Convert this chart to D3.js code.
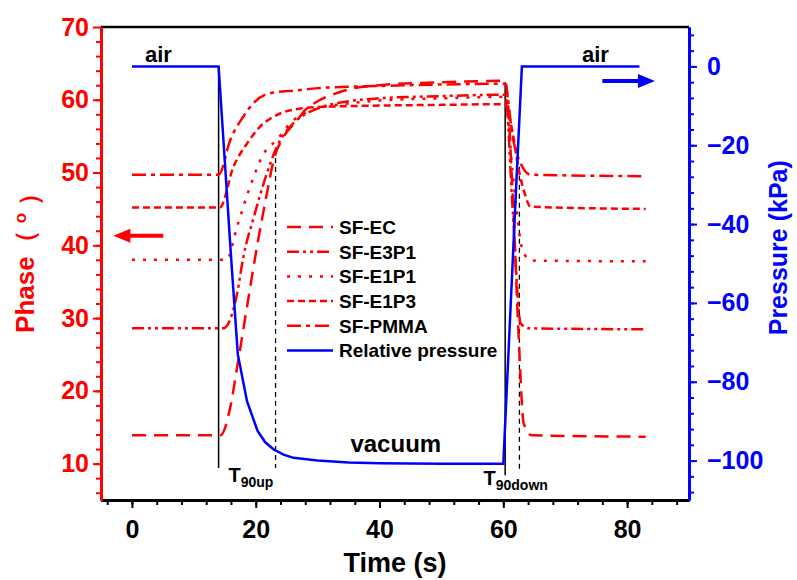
<!DOCTYPE html>
<html>
<head>
<meta charset="utf-8">
<script src="https://cdn.jsdelivr.net/npm/d3@7"></script>
<style>
    body { margin: 0; background: #fff; }
    svg { font-family: "Liberation Sans", Arial, sans-serif; font-weight: bold; }
</style>
</head>
<body>
<script>
// phase series (deg), time in s
const timeEC = [0, 14.3, 15.9, 17.0, 18.6, 20.2, 21.8, 22.9, 24.5, 26.7, 28, 30, 33, 36, 40, 50, 60.3, 61.6, 62.5, 63.3, 64.6, 83];
const phaseEC = [13.9, 13.9, 17.8, 23.3, 31.6, 39.8, 47.1, 51.7, 54.9, 57.2, 58.6, 59.8, 60.9, 61.6, 62.0, 62.4, 62.6, 45.3, 27.0, 15.5, 13.9, 13.7];

const timeE3P1 = [0, 14.8, 17.0, 18.0, 19.7, 21.8, 23.4, 26.1, 28, 30, 35, 40, 50, 60.3, 61.5, 62.8, 64.1, 83];
const phaseE3P1 = [28.6, 28.6, 33.4, 38.4, 43.9, 49.9, 53.5, 56.8, 58.0, 58.8, 59.8, 60.2, 60.5, 60.7, 45.0, 29.3, 28.6, 28.45];

const timeE1P1 = [0, 15.3, 17.0, 19.1, 21.3, 23.4, 26.1, 28, 30, 35, 40, 50, 60.3, 61.5, 63.2, 64.6, 83];
const phaseE1P1 = [38.0, 38.0, 42.6, 48.1, 52.6, 54.5, 57.2, 58.2, 58.8, 59.5, 59.9, 60.2, 60.4, 50.0, 39.1, 37.9, 37.8];

const timeE1P3 = [0, 14.2, 16.4, 18.6, 20.7, 23.4, 27.2, 30, 40, 50, 60.2, 61.5, 62.4, 63.5, 64.4, 83];
const phaseE1P3 = [45.2, 45.2, 50.8, 54.0, 56.3, 57.9, 58.8, 59.0, 59.2, 59.3, 59.4, 55.5, 50.8, 47.0, 45.3, 45.0];

const timePMMA = [0, 14.0, 15.9, 18.0, 19.6, 22.3, 26.7, 30, 40, 50, 60.2, 61.6, 63.2, 64.4, 83];
const phasePMMA = [49.7, 49.7, 54.5, 57.7, 59.5, 60.9, 61.3, 61.6, 61.9, 62.1, 62.2, 54.5, 50.6, 49.7, 49.5];

// relative pressure (kPa)
const timePressure = [0, 14.0, 15.0, 16.0, 17.1, 18.6, 20.3, 21.5, 22.9, 24.5, 26.1, 30, 35, 40, 50, 60.0, 61.0, 62.0, 63.0, 82];
const pressure = [0, 0, -24, -48, -73, -85, -92.5, -95.3, -97.2, -98.5, -99.3, -100.0, -100.5, -100.7, -100.8, -100.8, -67, -33, 0, 0];

const seriesNames = ["SF-EC", "SF-E3P1", "SF-E1P1", "SF-E1P3", "SF-PMMA"];

// axis ticks
const xTicks = [0, 20, 40, 60, 80];
const phaseTicks = [10, 20, 30, 40, 50, 60, 70];
const pressureTicks = [-100, -80, -60, -40, -20, 0];

// T90 marker lines: time, top and bottom on the phase scale
const markerTime = [14.0, 23.2, 60.3, 62.6];
const markerTop = [64.4, 52.0, 62.4, 50.8];
const markerBottom = [9.4, 9.4, 8.4, 8.8];

const width = 797;
const height = 580;
const plot = { left: 101, right: 689, top: 27, bottom: 500 };
const red = "#ff0000";
const blue = "#0000ff";

const dashes = ["14,8", "12,4,3,4,3,4", "3,8", "7,4", "14,5,4,5"];

const svg = d3.select("body").append("svg")
    .attr("width", width)
    .attr("height", height);

const x = d3.scaleLinear().domain([-5, 90]).range([plot.left, plot.right]);
const yPhase = d3.scaleLinear().domain([5, 70]).range([plot.bottom, plot.top]);
const yPressure = d3.scaleLinear().domain([-110, 10]).range([plot.bottom, plot.top]);

// top frame line
svg.append("line")
    .attr("x1", plot.left).attr("x2", plot.right)
    .attr("y1", plot.top).attr("y2", plot.top)
    .attr("stroke", "#000").attr("stroke-width", 2.5);

function styleAxis(g, color, size) {
    g.select(".domain").attr("stroke", color).attr("stroke-width", 2.8);
    g.selectAll(".tick line").attr("stroke", color).attr("stroke-width", 2);
    g.selectAll(".tick text").attr("fill", color)
        .style("font-size", size + "px").style("font-weight", "bold");
}

// bottom axis
const xMinor = d3.range(-4, 90, 4);
svg.append("g")
    .attr("transform", "translate(0," + plot.bottom + ")")
    .call(d3.axisBottom(x).tickValues(xMinor).tickSize(5).tickFormat("").tickSizeOuter(0))
    .call(g => styleAxis(g, "#000", 24));
svg.append("g")
    .attr("transform", "translate(0," + plot.bottom + ")")
    .call(d3.axisBottom(x).tickValues(xTicks).tickSize(8).tickPadding(12).tickSizeOuter(0))
    .call(g => styleAxis(g, "#000", 25));

// left axis (phase)
const phaseMinor = d3.range(6, 70, 2);
svg.append("g")
    .attr("transform", "translate(" + plot.left + ",0)")
    .call(d3.axisLeft(yPhase).tickValues(phaseMinor).tickSize(5).tickFormat("").tickSizeOuter(0))
    .call(g => styleAxis(g, red, 24));
svg.append("g")
    .attr("transform", "translate(" + plot.left + ",0)")
    .call(d3.axisLeft(yPhase).tickValues(phaseTicks).tickSize(8).tickPadding(4).tickSizeOuter(0))
    .call(g => styleAxis(g, red, 25));

// right axis (pressure)
const pressureMinor = d3.range(-108, 10, 4);
svg.append("g")
    .attr("transform", "translate(" + plot.right + ",0)")
    .call(d3.axisRight(yPressure).tickValues(pressureMinor).tickSize(5).tickFormat("").tickSizeOuter(0))
    .call(g => styleAxis(g, blue, 24));
svg.append("g")
    .attr("transform", "translate(" + plot.right + ",0)")
    .call(d3.axisRight(yPressure).tickValues(pressureTicks).tickSize(8).tickPadding(10).tickSizeOuter(0)
        .tickFormat(d => d < 0 ? "\u2212" + Math.abs(d) : d))
    .call(g => styleAxis(g, blue, 25));

// axis titles
svg.append("text")
    .attr("transform", "translate(" + (plot.left + plot.right) / 2 + ",572) ")
    .attr("text-anchor", "middle")
    .style("font-size", "27px")
    .attr("fill", "#000")
    .text("Time (s)");

const phaseTitle = svg.append("text")
    .attr("transform", "translate(34," + yPhase(38.5) + ") rotate(-90)")
    .attr("text-anchor", "middle")
    .style("font-size", "26px")
    .attr("fill", red);
phaseTitle.append("tspan").text("Phase\uff08 ");
phaseTitle.append("tspan").attr("dy", "-0.45em").style("font-size", "17px").text("o");
phaseTitle.append("tspan").attr("dy", "0.45em").text(" \uff09");

svg.append("text")
    .attr("transform", "translate(787," + yPressure(-46) + ") rotate(-90)")
    .attr("text-anchor", "middle")
    .style("font-size", "25px")
    .attr("fill", blue)
    .text("Pressure (kPa)");

// T90 marker lines
svg.append("g").selectAll("line")
    .data(markerTime)
    .join("line")
    .attr("x1", d => x(d)).attr("x2", d => x(d))
    .attr("y1", (d, i) => yPhase(markerTop[i]))
    .attr("y2", (d, i) => yPhase(markerBottom[i]))
    .attr("stroke", "#000")
    .attr("stroke-width", (d, i) => i % 2 === 0 ? 1.5 : 1.3)
    .attr("stroke-dasharray", (d, i) => i % 2 === 0 ? null : "5,4");

// phase lines
const phaseSeries = [
    [timeEC, phaseEC],
    [timeE3P1, phaseE3P1],
    [timeE1P1, phaseE1P1],
    [timeE1P3, phaseE1P3],
    [timePMMA, phasePMMA]
];

const phaseLine = d3.line()
    .x(d => x(d[0]))
    .y(d => yPhase(d[1]))
    .curve(d3.curveMonotoneX);

svg.append("g").selectAll("path")
    .data(phaseSeries)
    .join("path")
    .attr("d", s => phaseLine(d3.zip(s[0], s[1])))
    .attr("fill", "none")
    .attr("stroke", red)
    .attr("stroke-width", 2.5)
    .attr("stroke-dasharray", (d, i) => dashes[i]);

// pressure line
const pressureLine = d3.line()
    .x(d => x(d[0]))
    .y(d => yPressure(d[1]));

svg.append("path")
    .attr("d", pressureLine(d3.zip(timePressure, pressure)))
    .attr("fill", "none")
    .attr("stroke", blue)
    .attr("stroke-width", 2.5);

// legend
const legendNames = seriesNames.concat(["Relative pressure"]);
const legend = svg.append("g")
    .selectAll("g")
    .data(legendNames)
    .join("g")
    .attr("transform", (d, i) => "translate(287," + (227 + i * 24.7) + ")");

legend.append("line")
    .attr("x1", 0).attr("x2", 46)
    .attr("stroke", (d, i) => i < 5 ? red : blue)
    .attr("stroke-width", 2.5)
    .attr("stroke-dasharray", (d, i) => i < 5 ? dashes[i] : null);

legend.append("text")
    .attr("x", 52)
    .attr("dy", "0.36em")
    .style("font-size", "19px")
    .attr("fill", "#000")
    .text(d => d);

// annotations
svg.append("text")
    .attr("x", x(2.1)).attr("y", yPressure(1.2))
    .style("font-size", "22px")
    .text("air");
svg.append("text")
    .attr("x", x(72.7)).attr("y", yPressure(1.2))
    .style("font-size", "22px")
    .text("air");
svg.append("text")
    .attr("x", x(35.3)).attr("y", yPressure(-97.8))
    .style("font-size", "24px")
    .text("vacuum");

function t90Label(t, p, sub) {
    const label = svg.append("text")
        .attr("x", x(t)).attr("y", yPhase(p))
        .style("font-size", "20px");
    label.append("tspan").text("T");
    label.append("tspan").attr("dy", "5").style("font-size", "14px").text(sub);
}
t90Label(15.6, 7.5, "90up");
t90Label(56.8, 7.06, "90down");

// arrows
function arrow(t0, t1, y, color) {
    const xs = x(t0), xe = x(t1);
    const dir = Math.sign(xe - xs);
    svg.append("line")
        .attr("x1", xs).attr("x2", xe - dir * 12)
        .attr("y1", y).attr("y2", y)
        .attr("stroke", color).attr("stroke-width", 4);
    svg.append("path")
        .attr("d", "M" + xe + "," + y + "L" + (xe - dir * 17) + "," + (y - 7) + "L" + (xe - dir * 17) + "," + (y + 7) + "Z")
        .attr("fill", color);
}
arrow(5.06, -3.0, yPhase(41.3), red);
arrow(76.0, 84.5, yPressure(-3.7), blue);
</script>
</body>
</html>
